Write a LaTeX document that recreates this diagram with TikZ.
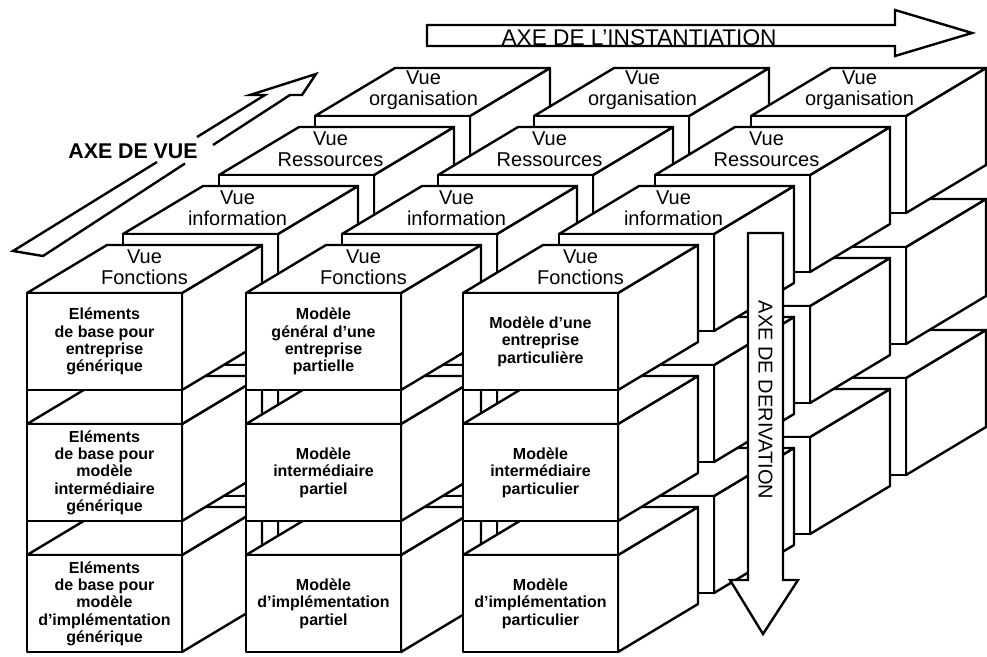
\documentclass[tikz,border=0pt]{standalone}
\usepackage{fontspec}
\setmainfont{Liberation Sans}
\tikzset{
  bloc/.style={draw=black, fill=white, line width=1.8pt, line join=round},
  fente/.style={black, line width=1.8pt},
  vue/.style={align=center, inner sep=0pt, font=\fontsize{15}{16}\selectfont},
  modele/.style={align=center, inner sep=0pt, font=\fontsize{12}{13}\selectfont\bfseries},
  axe/.style={draw=black, fill=white, line width=1.8pt, line join=miter},
  fleche/.style={black, line width=1.8pt, line join=miter},
}
% #1 = x of the front face, #2 = y of its top, #3 = depth (0 = front)
\newcommand{\bloc}[3]{%
  \begin{scope}[shift={({#1+96*#3},{#2-59*#3})}]
    \filldraw[bloc] (155,0) -- (235,-48) -- (235,49) -- (155,97) -- cycle;
    \filldraw[bloc] (0,0) -- (155,0) -- (235,-48) -- (80,-48) -- cycle;
    \filldraw[bloc] (0,0) rectangle (155,97);
  \end{scope}}
\begin{document}
\begin{tikzpicture}[x=0.75pt, y=-0.75pt]
  \useasboundingbox (0,0) rectangle (987,656);

  % vue organisation
  \bloc{27}{555}{3} \bloc{246}{555}{3} \bloc{463}{555}{3}
  \bloc{27}{424}{3} \bloc{246}{424}{3} \bloc{463}{424}{3}
  \bloc{27}{293}{3} \bloc{246}{293}{3} \bloc{463}{293}{3}
  % vue ressources
  \bloc{27}{555}{2} \bloc{246}{555}{2} \bloc{463}{555}{2}
  \bloc{27}{424}{2} \bloc{246}{424}{2} \bloc{463}{424}{2}
  \bloc{27}{293}{2} \bloc{246}{293}{2} \bloc{463}{293}{2}
  % vue information
  \bloc{27}{555}{1} \bloc{246}{555}{1} \bloc{463}{555}{1}
  \bloc{27}{424}{1} \bloc{246}{424}{1} \bloc{463}{424}{1}
  \bloc{27}{293}{1} \bloc{246}{293}{1} \bloc{463}{293}{1}
  % vue fonctions
  \bloc{27}{555}{0} \bloc{246}{555}{0} \bloc{463}{555}{0}
  \bloc{27}{424}{0} \bloc{246}{424}{0} \bloc{463}{424}{0}
  \bloc{27}{293}{0} \bloc{246}{293}{0} \bloc{463}{293}{0}

  % fentes entre les niveaux
  \begin{scope}[fente]
    \draw (27,390) -- (27,424) (182,390) -- (182,424);
    \draw (27,521) -- (27,555) (182,521) -- (182,555);
    \draw (246,390) -- (246,424) (401,390) -- (401,424);
    \draw (246,521) -- (246,555) (401,521) -- (401,555);
    \draw (463,390) -- (463,424) (618,390) -- (618,424);
    \draw (463,521) -- (463,555) (618,521) -- (618,555);
  \end{scope}

  % vues
  \node[vue] (fonA) at (144.5,267) {Vue\\Fonctions};
  \node[vue] (infA) at (237.5,208) {Vue\\information};
  \node[vue] (resA) at (330.5,149) {Vue\\Ressources};
  \node[vue] (orgA) at (423.5,90) {Vue\\organisation};
  \node[vue] (fonB) at (363.5,267) {Vue\\Fonctions};
  \node[vue] (infB) at (456.5,208) {Vue\\information};
  \node[vue] (resB) at (549.5,149) {Vue\\Ressources};
  \node[vue] (orgB) at (642.5,90) {Vue\\organisation};
  \node[vue] (fonC) at (580.5,267) {Vue\\Fonctions};
  \node[vue] (infC) at (673.5,208) {Vue\\information};
  \node[vue] (resC) at (766.5,149) {Vue\\Ressources};
  \node[vue] (orgC) at (859.5,90) {Vue\\organisation};

  % modeles
  \node[modele] (baseent) at (104.5,341.5) {Eléments\\de base pour\\entreprise\\générique};
  \node[modele] (baseint) at (104.5,472.5) {Eléments\\de base pour\\modèle\\intermédiaire\\générique};
  \node[modele] (baseimp) at (104.5,603.5) {Eléments\\de base pour\\modèle\\d'implémentation\\générique};
  \node[modele] (genent) at (323.5,341.5) {Modèle\\général d'une\\entreprise\\partielle};
  \node[modele] (genint) at (323.5,472.5) {Modèle\\intermédiaire\\partiel};
  \node[modele] (genimp) at (323.5,603.5) {Modèle\\d'implémentation\\partiel};
  \node[modele] (partent) at (540.5,341.5) {Modèle d'une\\entreprise\\particulière};
  \node[modele] (partint) at (540.5,472.5) {Modèle\\intermédiaire\\particulier};
  \node[modele] (partimp) at (540.5,603.5) {Modèle\\d'implémentation\\particulier};

  % axe de l'instantiation
  \draw[axe] (427,25) -- (895,25) -- (895,10) -- (972,33) -- (895,56) -- (895,46) -- (427,46) -- cycle;
  \node[anchor=base, inner sep=0pt, font=\fontsize{17}{18}\selectfont] (axeinst) at (639,46) {AXE DE L'INSTANTIATION};

  % axe de derivation
  \draw[axe] (748,233) -- (783,233) -- (783,580) -- (798,580) -- (763,634) -- (730,580) -- (748,580) -- cycle;
  \node[rotate=-90, inner sep=0pt, font=\fontsize{15}{18}\selectfont] (axederiv) at (765.5,400) {AXE DE DERIVATION};

  % axe de vue
  \coordinate (vt1) at (13,251);
  \coordinate (vt2) at (43,256);
  \coordinate (vb1) at (157,162);
  \coordinate (vb2) at (185,163.5);
  \coordinate (vc1) at (197,137);
  \coordinate (vc2) at (213,145);
  \coordinate (vh1) at (265,95);
  \coordinate (vh2) at (290,95);
  \coordinate (vl) at (250,95);
  \coordinate (vtip) at (316,74);
  \coordinate (vr) at (302,95);
  \draw[fleche] (vb1) -- (vt1) -- (vt2) -- (vb2);
  \draw[fleche] (vc1) -- (vh1) -- (vl) -- (vtip) -- (vr) -- (vh2) -- (vc2);
  \node[inner sep=0pt, font=\fontsize{16}{18}\selectfont\bfseries] (axevue) at (133,151) {AXE DE VUE};
\end{tikzpicture}
\end{document}
